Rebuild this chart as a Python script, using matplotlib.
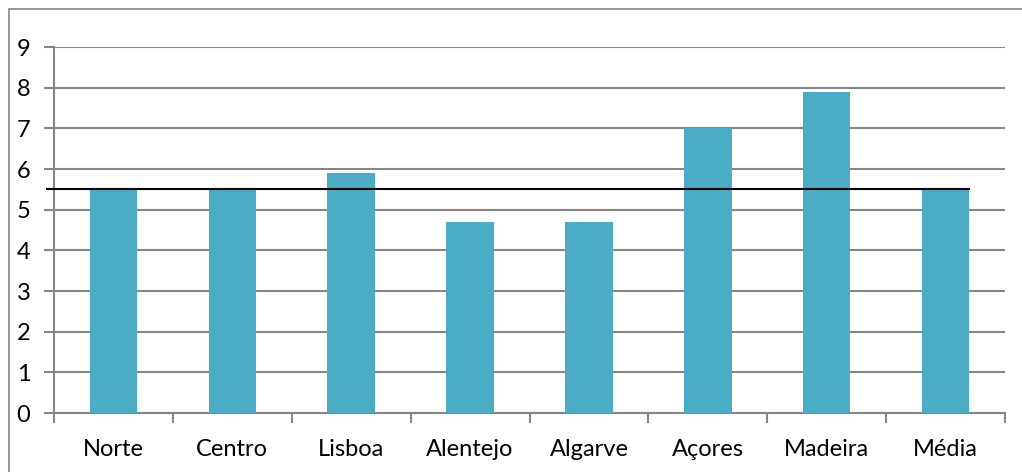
import matplotlib
matplotlib.use("Agg")
import matplotlib.pyplot as plt
from matplotlib.patches import Rectangle

regions = ["Norte", "Centro", "Lisboa", "Alentejo", "Algarve", "Açores", "Madeira", "Média"]
values = [5.5, 5.5, 5.9, 4.7, 4.7, 7.0, 7.9, 5.5]
average = 5.5
y_ticks = list(range(0, 10))

plt.rcParams["font.family"] = ["Lato", "DejaVu Sans"]

W, H = 1022, 472
fig = plt.figure(figsize=(W / 100, H / 100), dpi=100)
ax = fig.add_axes([54 / W, 1 - 413 / H, (1005 - 54) / W, (413 - 47) / H])

grid_col = "#868686"
bar_col = "#4BACC6"

x = list(range(len(regions)))
ax.bar(x, values, width=0.4, color=bar_col, zorder=3)

# reference line for the national average
ax.plot([-0.56, 7.2], [average, average], color="black", lw=1.5, zorder=4, clip_on=False)

ax.set_xlim(-0.5, len(regions) - 0.5)
ax.set_ylim(0, 9)
ax.set_yticks(y_ticks)
ax.set_yticklabels([str(t) for t in y_ticks], fontsize=17)
ax.yaxis.grid(True, color=grid_col, lw=1.5, zorder=0)
ax.set_axisbelow(True)

# category labels between the boundary ticks
ax.set_xticks([i - 0.5 for i in range(len(regions) + 1)])
ax.set_xticklabels([])
ax.set_xticks(x, minor=True)
ax.set_xticklabels(regions, minor=True, fontsize=17)
ax.tick_params(axis="x", which="minor", length=0, pad=19)
ax.tick_params(axis="x", which="major", length=7, width=1.5, color=grid_col, direction="out")
ax.tick_params(axis="y", length=7, width=1.5, color=grid_col, pad=10)

for s in ["top", "right"]:
    ax.spines[s].set_visible(False)
for s in ["left", "bottom"]:
    ax.spines[s].set_color(grid_col)
    ax.spines[s].set_linewidth(1.5)

# outer chart frame
fig.patches.append(Rectangle((9 / W, -0.05), 1.1, 1 - 9 / H + 0.05, transform=fig.transFigure,
                             fill=False, edgecolor="#868686", lw=1.2))

fig.savefig("out.png", dpi=100)
